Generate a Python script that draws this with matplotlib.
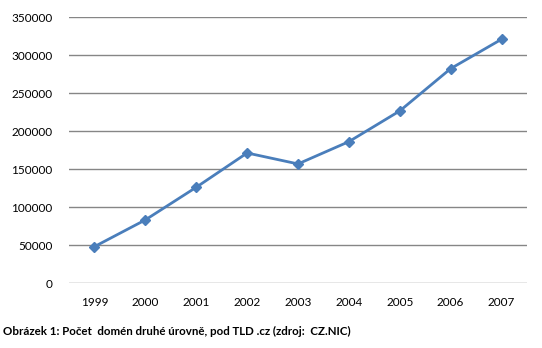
import matplotlib
matplotlib.use("Agg")
import matplotlib.pyplot as plt

plt.rcParams['font.family'] = ['Lato', 'DejaVu Sans']

years = ['1999', '2000', '2001', '2002', '2003', '2004', '2005', '2006', '2007']
domains = [48200, 83300, 126200, 171300, 156900, 186200, 226600, 282200, 320800]
yticks = [0, 50000, 100000, 150000, 200000, 250000, 300000, 350000]

fig = plt.figure(figsize=(5.42, 3.48), dpi=100)
ax = fig.add_axes([0.1273, 0.186, 0.845, 0.765])

ax.plot(range(len(years)), domains, color='#4A7EBB', lw=2.0,
        marker='D', markersize=5.5, markerfacecolor='#4A7EBB',
        markeredgecolor='#4A7EBB', zorder=3)

ax.set_xlim(-0.5, len(years) - 0.5)
ax.set_ylim(0, 350000)
ax.set_yticks(yticks)
ax.set_yticklabels([str(v) for v in yticks])
ax.set_xticks(range(len(years)))
ax.set_xticklabels(years)
ax.yaxis.grid(True, color='#868686', lw=1.0)
ax.set_axisbelow(True)
for s in ax.spines.values():
    s.set_visible(False)
ax.tick_params(axis='both', length=0, labelsize=8.5, colors='black')
ax.tick_params(axis='y', pad=12)
ax.tick_params(axis='x', pad=10)

fig.text(0.006, 0.048, 'Obrázek 1: Počet  domén druhé úrovně, pod TLD .cz (zdroj:  CZ.NIC)',
         fontsize=8.3, fontweight='bold', ha='left', va='center')

fig.savefig('out.png', dpi=100)
